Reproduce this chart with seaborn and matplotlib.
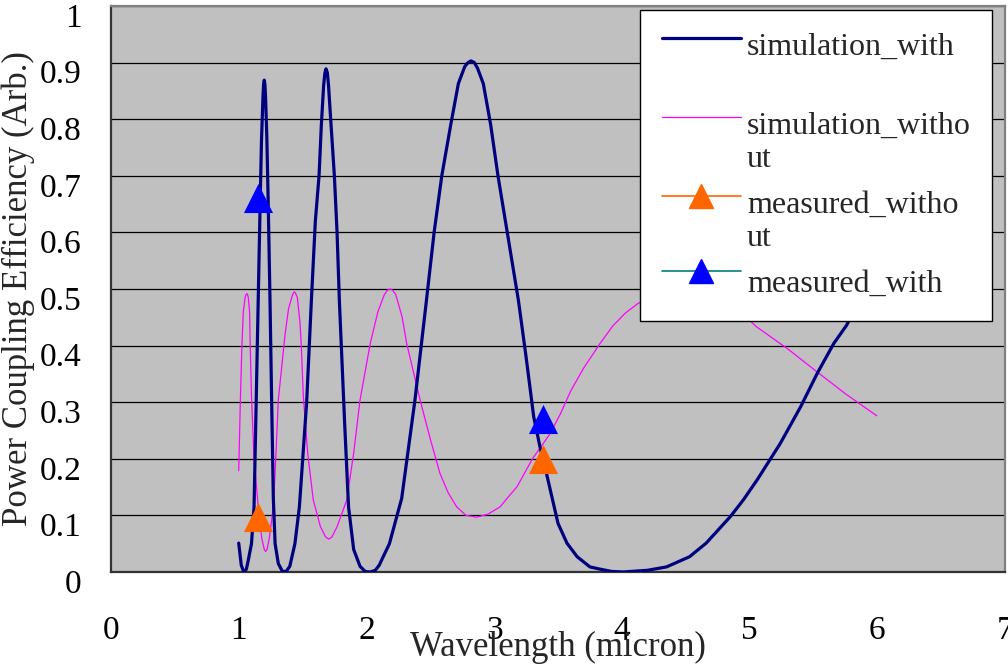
import numpy as np
import pandas as pd
import seaborn as sns
import matplotlib
matplotlib.use("Agg")
import matplotlib.pyplot as plt
import matplotlib.transforms as mtransforms
from matplotlib.lines import Line2D

# values
sim_with_x = [1.0, 1.02, 1.04, 1.06, 1.075, 1.10, 1.12, 1.135, 1.15, 1.165, 1.178, 1.19, 1.195,
              1.20, 1.205, 1.21, 1.22, 1.232, 1.245, 1.258, 1.271, 1.285, 1.31, 1.34, 1.368,
              1.40, 1.44, 1.475, 1.532, 1.569, 1.60, 1.629, 1.647, 1.665, 1.675, 1.684, 1.694,
              1.703, 1.723, 1.749, 1.77, 1.788, 1.83, 1.86, 1.90, 1.95, 1.99, 2.03, 2.07, 2.10,
              2.18, 2.276, 2.38, 2.47, 2.53, 2.59, 2.66, 2.72, 2.77, 2.795, 2.819, 2.845, 2.87,
              2.915, 2.973, 3.03, 3.11, 3.19, 3.25, 3.31, 3.36, 3.41, 3.46, 3.50, 3.57, 3.65,
              3.75, 3.83, 3.92, 4.01, 4.2, 4.35, 4.53, 4.66, 4.85, 4.95, 5.06, 5.24, 5.40, 5.53,
              5.66, 5.76, 5.90, 6.0]
sim_with_y = [0.051, 0.012, 0.0, 0.005, 0.021, 0.05, 0.115, 0.28, 0.45, 0.62, 0.76, 0.84, 0.862,
              0.869, 0.862, 0.84, 0.77, 0.64, 0.48, 0.30, 0.13, 0.05, 0.015, 0.002, 0.0,
              0.01, 0.05, 0.115, 0.30, 0.48, 0.62, 0.70, 0.79, 0.86, 0.882, 0.889, 0.882,
              0.86, 0.79, 0.70, 0.60, 0.48, 0.26, 0.115, 0.04, 0.01, 0.001, 0.0, 0.003, 0.012,
              0.05, 0.13, 0.304, 0.48, 0.60, 0.70, 0.79, 0.863, 0.893, 0.90, 0.903, 0.90, 0.89,
              0.863, 0.79, 0.70, 0.59, 0.48, 0.38, 0.274, 0.22, 0.174, 0.125, 0.086, 0.051, 0.027,
              0.009, 0.005, 0.001, 0.0, 0.003, 0.009, 0.027, 0.051, 0.098, 0.127, 0.163, 0.227, 0.292, 0.351,
              0.404, 0.436, 0.50, 0.55]

sim_without_x = [1.0, 1.013, 1.025, 1.036, 1.05, 1.057, 1.063, 1.069, 1.075, 1.085, 1.09, 1.10,
                 1.12, 1.153, 1.18, 1.20, 1.211, 1.222, 1.24, 1.271, 1.29, 1.31, 1.363, 1.39,
                 1.415, 1.428, 1.436, 1.444, 1.459, 1.48, 1.49, 1.506, 1.54, 1.584, 1.64, 1.68,
                 1.705, 1.73, 1.77, 1.846, 1.90, 1.95, 2.03, 2.09, 2.14, 2.165, 2.185, 2.205,
                 2.23, 2.28, 2.315, 2.42, 2.50, 2.576, 2.64, 2.707, 2.78, 2.864, 2.95, 3.046,
                 3.12, 3.18, 3.30, 3.44, 3.52, 3.60, 3.70, 3.83, 3.93, 4.03, 4.13, 4.3, 4.5, 4.7,
                 4.9, 5.056, 5.3, 5.526, 5.75, 5.996]
sim_without_y = [0.179, 0.304, 0.40, 0.46, 0.485, 0.49, 0.492, 0.49, 0.485, 0.46, 0.40, 0.31,
                 0.20, 0.115, 0.06, 0.04, 0.036, 0.04, 0.06, 0.115, 0.20, 0.304, 0.42, 0.465,
                 0.485, 0.493, 0.495, 0.493, 0.485, 0.44, 0.40, 0.31, 0.21, 0.127, 0.08, 0.062,
                 0.058, 0.062, 0.08, 0.127, 0.21, 0.304, 0.404, 0.46, 0.49, 0.498, 0.50, 0.498,
                 0.49, 0.45, 0.404, 0.304, 0.235, 0.174, 0.14, 0.115, 0.10, 0.097, 0.102, 0.115,
                 0.135, 0.151, 0.20, 0.245, 0.28, 0.32, 0.36, 0.404, 0.435, 0.458, 0.475, 0.49, 0.50, 0.49,
                 0.465, 0.433, 0.394, 0.354, 0.315, 0.276]

meas_without_x = [1.15, 3.385]
meas_without_y = [0.098, 0.199]
meas_with_x = [1.15, 3.385]
meas_with_y = [0.66, 0.27]

labels = ["simulation_with\n ", "simulation_witho\nut", "measured_witho\nut", "measured_with"]
x_ticks = [0, 1, 2, 3, 4, 5, 6, 7]
y_ticks = [0, 0.1, 0.2, 0.3, 0.4, 0.5, 0.6, 0.7, 0.8, 0.9, 1.0]
y_tick_labels = ["0", "0.1", "0.2", "0.3", "0.4", "0.5", "0.6", "0.7", "0.8", "0.9", "1"]

sns.set_style("white")
plt.rcParams['font.family'] = ['Liberation Serif', 'DejaVu Serif']

fig = plt.figure(figsize=(10.08, 6.67), dpi=100)
ax = fig.add_axes([111 / 1008, 1 - 572 / 667, 894 / 1008, 566 / 667])
ax.set_facecolor('#C0C0C0')

df_with = pd.DataFrame({'x': sim_with_x, 'y': sim_with_y})
df_without = pd.DataFrame({'x': sim_without_x, 'y': sim_without_y})

sns.lineplot(data=df_without, x='x', y='y', color='#FF00FF', lw=0.9, sort=False, ax=ax, zorder=3)
sns.lineplot(data=df_with, x='x', y='y', color='#000080', lw=2.3, sort=False, ax=ax, zorder=4)
sns.scatterplot(x=meas_without_x, y=meas_without_y, marker='^', s=440, color='#FF6600',
                edgecolor='#FF6600', linewidth=0, ax=ax, zorder=5)
sns.scatterplot(x=meas_with_x, y=meas_with_y, marker='^', s=440, color='#0000FF',
                edgecolor='#0000FF', linewidth=0, ax=ax, zorder=5)

ax.set_xlim(0, 7)
ax.set_ylim(0, 1)
ax.set_xticks(x_ticks)
ax.set_xticklabels([str(v) for v in x_ticks])
ax.set_yticks(y_ticks)
ax.set_yticklabels(y_tick_labels)

ax.yaxis.grid(True, color='black', lw=0.9)
ax.xaxis.grid(False)
ax.set_axisbelow(True)

for side in ['left', 'bottom']:
    ax.spines[side].set_color('#333333')
    ax.spines[side].set_linewidth(1.6)
for side in ['top', 'right']:
    ax.spines[side].set_color('#808080')
    ax.spines[side].set_linewidth(1.6)

ax.tick_params(axis='both', direction='in', length=7, width=1.5, color='#404040',
               labelsize=24, labelcolor='black')
ax.tick_params(axis='x', pad=31)
ax.tick_params(axis='y', pad=21)

# Excel puts the y labels a bit under their gridline
offset = mtransforms.ScaledTranslation(0, -0.09, fig.dpi_scale_trans)
for lab in ax.get_yticklabels():
    lab.set_transform(lab.get_transform() + offset)

ax.set_xlabel('Wavelength (micron)', fontsize=25, va='center')
ax.xaxis.set_label_coords(0.5, -0.134)
ax.set_ylabel('Power Coupling Efficiency (Arb.)', fontsize=25, va='center')
ax.yaxis.set_label_coords(-0.104, 0.5)

handles = [
    Line2D([], [], color='#000080', lw=2.3),
    Line2D([], [], color='#FF00FF', lw=0.9),
    Line2D([], [], color='#FF6600', lw=1.2, marker='^', markersize=17,
           markerfacecolor='#FF6600', markeredgecolor='#FF6600'),
    Line2D([], [], color='#008080', lw=1.2, marker='^', markersize=17,
           markerfacecolor='#0000FF', markeredgecolor='#0000FF'),
]
leg = ax.legend(handles, labels, loc='upper left', mode='expand',
                bbox_to_anchor=(640 / 1008, 1 - 325 / 667, 352 / 1008, 315 / 667),
                bbox_transform=fig.transFigure, fontsize=23, frameon=True, fancybox=False,
                framealpha=1, edgecolor='black', borderaxespad=0, borderpad=0.7,
                labelspacing=0.52, handlelength=2.45, handletextpad=0.2)
leg.get_frame().set_linewidth(1.0)
leg.set_zorder(10)

# handles sit level with the first text line, as Excel draws them
for h, lab in zip(leg.legend_handles, labels):
    shift = 18.5 if '\n' in lab else 7
    h.set_ydata(np.asarray(h.get_ydata()) + shift)

fig.savefig('out.png', dpi=100)
